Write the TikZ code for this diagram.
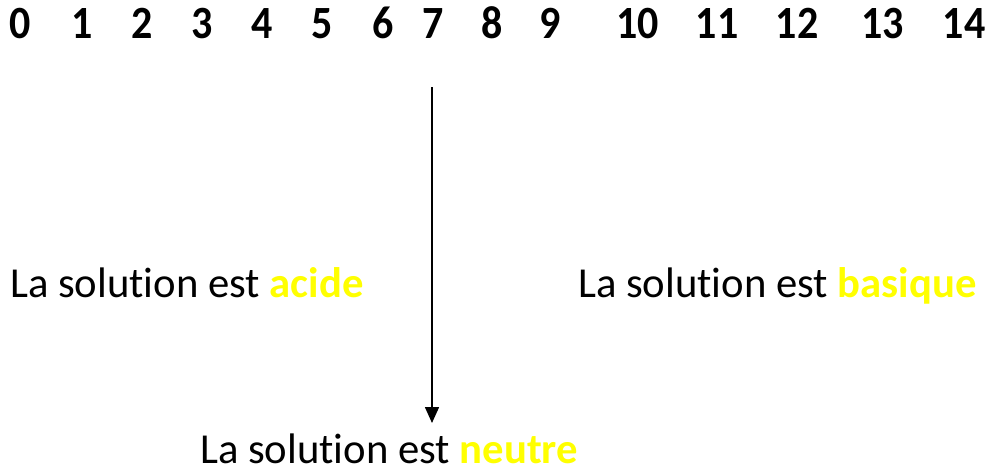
\documentclass[tikz,border=0pt]{standalone}
\usepackage{fontspec}
\setmainfont[Ligatures={NoCommon}]{Carlito}
\usetikzlibrary{arrows.meta}
\definecolor{hl}{RGB}{255,255,0}
\tikzset{
  num/.style={font=\fontsize{42}{50}\selectfont\bfseries, anchor=base, inner sep=0pt, yscale=1.1},
  lbl/.style={font=\fontsize{42.7}{50}\selectfont, anchor=base west, inner sep=0pt},
  arr/.style={-{Triangle[length=16pt,width=14pt]}, line width=1.6pt}
}
\begin{document}
\begin{tikzpicture}[x=1pt,y=-1pt]
\useasboundingbox (0,0) rectangle (989,474);
\foreach \n/\x in {0/20,1/82,2/142.5,3/202.5,4/262,5/322.5,6/383,7/433.5,8/492,9/550,10/637.5,11/717,12/797,13/882.5,14/964}{
  \node[num] (n\n) at (\x,38) {\n};
}
\node[lbl] (acide) at (10,297) {La solution est \textbf{\color{hl}acide}};
\node[lbl] (basique) at (578,297) {La solution est \textbf{\color{hl}basique}};
\node[lbl] (neutre) at (200,463) {La solution est \textbf{\color{hl}neutre}};
\coordinate (top) at (432,87);
\coordinate (bot) at (432,423);
\draw[arr] (top) -- (bot);
\end{tikzpicture}
\end{document}
